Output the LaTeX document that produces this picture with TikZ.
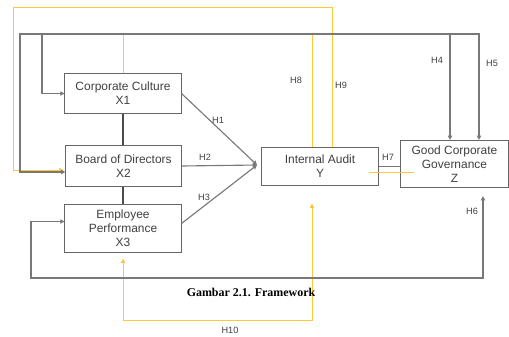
\documentclass[tikz,border=0pt]{standalone}
\usepackage{fontspec}
\setmainfont{Liberation Sans}
\newfontfamily\captionfont{Liberation Serif}
\usetikzlibrary{arrows.meta,calc}
\definecolor{gold}{RGB}{255,200,60}
\definecolor{wiregray}{RGB}{120,120,120}
\begin{document}
\begin{tikzpicture}
[
x=0.025cm, y=-0.025cm,
>={Triangle[length=3pt,width=3pt]},
Box/.style={rectangle,draw=black!60,fill=white,line width=0.7pt,inner sep=0pt,align=center,text=black!75,font=\fontsize{8.5}{10}\selectfont},
Wire/.style={draw=wiregray,line width=0.8pt},
Tie/.style={draw=black!70,line width=1.4pt},
Goldline/.style={draw=gold,line width=0.6pt},
Label/.style={text=black!75,inner sep=1pt,font=\fontsize{6.5}{7}\selectfont},
]

\useasboundingbox (0,0) rectangle (509,337);

% variables
\node[Box,minimum width=2.9cm,minimum height=0.98cm] (cc) at (123,93.5) {Corporate Culture\\X1};
\node[Box,minimum width=2.88cm,minimum height=1.02cm] (bod) at (123.5,166) {Board of Directors\\X2};
\node[Box,minimum width=2.9cm,minimum height=1.18cm] (ep) at (123,228.5) {Employee\\Performance\\X3};
\node[Box,minimum width=2.9cm,minimum height=0.93cm] (ia) at (320,166.5) {Internal Audit\\Y};
\node[Box,minimum width=2.68cm,minimum height=1.18cm] (gcg) at (454.5,164) {Good Corporate\\Governance\\Z};

% corners of the long lines
\coordinate (h4corner) at (42,34);
\coordinate (h5corner) at (20,34);
\coordinate (h4top) at (450,34);
\coordinate (h5top) at (479,34);
\coordinate (h6corner) at (31,278);
\coordinate (h6x) at (483,278);
\coordinate (h8top) at (312,34);
\coordinate (h9top) at (332,7);
\coordinate (h9corner) at (13,7);
\coordinate (h10corner) at (124,320);
\coordinate (conv) at (257,165);

% yellow lines
\draw[Goldline] (cc.north) |- (h8top) -- (ia.north -| h8top);
\draw[Goldline,->] (ia.north -| h9top) |- (h9corner) |- ($(bod.west)+(-2,4)$);
\draw[Goldline,<->,shorten <=0.15cm,shorten >=0.45cm] (ep.south) |- (h10corner -| h8top) -- (ia.south -| h8top);
\draw[Goldline] ($(ia.east)+(-10,5.5)$) -- ($(ia.east)+(35,5.5)$);

% links
\draw[Tie] (cc.south) -- (cc.south |- bod.north);
\draw[Tie] (bod.south -| ep.north) -- (ep.north);
\draw[Wire,->] (cc.east) -- (conv);
\draw[Wire,->] (bod.east) -- (conv);
\draw[Wire,->] ($(ep.east)+(0,-5)$) -- (conv);
\draw[Wire,<->,line width=1pt] (cc.west) -| (h4corner) -| (gcg.north -| h4top);
\draw[Wire,<->,line width=1pt] ($(bod.west)+(0,6)$) -| (h5corner) -| (gcg.north -| h5top);
\draw[Wire,<->,shorten >=0.2cm] ($(ep.west)+(0,-7)$) -| (h6corner) -| (gcg.south -| h6x);
\draw[Wire] (ia.east) -- (ia.east -| gcg.west);

% labels
\node[Label] (h1) at (218,120) {H1};
\node[Label] (h2) at (205,157) {H2};
\node[Label] (h3) at (204,197) {H3};
\node[Label] (h4) at (437,60) {H4};
\node[Label] (h5) at (492,63) {H5};
\node[Label] (h6) at (472,211) {H6};
\node[Label] (h7) at (388,157) {H7};
\node[Label] (h8) at (296,80) {H8};
\node[Label] (h9) at (341,85) {H9};
\node[Label] (h10) at (230,330) {H10};

\node[font=\captionfont\bfseries\fontsize{8.5}{10}\selectfont] (caption) at (251,292) {Gambar 2.1. Framework};

\end{tikzpicture}
\end{document}
